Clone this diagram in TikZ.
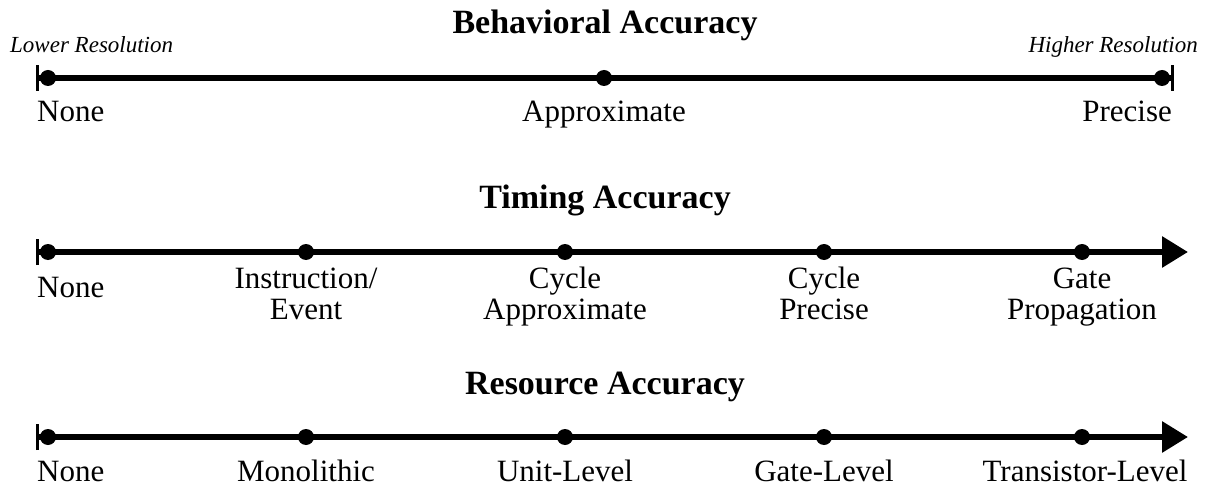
\documentclass[tikz,border=0pt]{standalone}
\usepackage{fontspec}
\setmainfont{Liberation Serif}
\usetikzlibrary{arrows.meta}
\begin{document}
\begin{tikzpicture}[x=1pt,y=-1pt,
  axis/.style={line width=6pt},
  endbar/.style={line width=3pt},
  dot/.style={circle,fill=black,inner sep=0pt,minimum size=16pt},
  lbl/.style={font=\fontsize{31}{31}\selectfont,inner sep=0pt,align=center},
  ttl/.style={font=\fontsize{34}{36}\selectfont\bfseries,inner sep=0pt},
  res/.style={font=\fontsize{23}{24}\selectfont\itshape,inner sep=0pt},
  tip/.style={-{Triangle[length=26pt,width=30pt]}}
]
\useasboundingbox (0,0) rectangle (1206,486);

% ---------- Behavioral ----------
\node[ttl,anchor=base] (t1) at (605,34) {Behavioral Accuracy};
\node[res,anchor=base west] (lo) at (10,53) {Lower Resolution};
\node[res,anchor=base east] (hi) at (1198,53) {Higher Resolution};
\coordinate (b1L) at (37,78);
\coordinate (b1R) at (1172,78);
\draw[axis] (b1L) -- (b1R);
\draw[endbar] ([yshift=-13pt]b1L) -- ([yshift=13pt]b1L);
\draw[endbar] ([yshift=-13pt]b1R) -- ([yshift=13pt]b1R);
\node[dot] (d11) at (48,78) {};
\node[dot] (d12) at (604,78) {};
\node[dot] (d13) at (1162,78) {};
\node[lbl,anchor=base west] (l11) at (37,122) {None};
\node[lbl,anchor=base] (l12) at (604,122) {Approximate};
\node[lbl,anchor=base east] (l13) at (1172,122) {Precise};

% ---------- Timing ----------
\node[ttl,anchor=base] (t2) at (605,209) {Timing Accuracy};
\coordinate (b2L) at (37,252);
\coordinate (b2R) at (1188,252);
\draw[axis,tip] (b2L) -- (b2R);
\draw[endbar] ([yshift=-13pt]b2L) -- ([yshift=13pt]b2L);
\node[dot] (d21) at (48,252) {};
\node[dot] (d22) at (306,252) {};
\node[dot] (d23) at (565,252) {};
\node[dot] (d24) at (824,252) {};
\node[dot] (d25) at (1082,252) {};
\node[lbl,anchor=base west] (l21) at (37,297) {None};
\node[lbl,anchor=base] (l22) at (306,319) {Instruction/\\Event};
\node[lbl,anchor=base] (l23) at (565,319) {Cycle\\Approximate};
\node[lbl,anchor=base] (l24) at (824,319) {Cycle\\Precise};
\node[lbl,anchor=base] (l25) at (1082,319) {Gate\\Propagation};

% ---------- Resource ----------
\node[ttl,anchor=base] (t3) at (605,394) {Resource Accuracy};
\coordinate (b3L) at (37,437);
\coordinate (b3R) at (1188,437);
\draw[axis,tip] (b3L) -- (b3R);
\draw[endbar] ([yshift=-13pt]b3L) -- ([yshift=13pt]b3L);
\node[dot] (d31) at (48,437) {};
\node[dot] (d32) at (306,437) {};
\node[dot] (d33) at (565,437) {};
\node[dot] (d34) at (824,437) {};
\node[dot] (d35) at (1082,437) {};
\node[lbl,anchor=base west] (l31) at (37,481) {None};
\node[lbl,anchor=base] (l32) at (306,481) {Monolithic};
\node[lbl,anchor=base] (l33) at (565,481) {Unit-Level};
\node[lbl,anchor=base] (l34) at (824,481) {Gate-Level};
\node[lbl,anchor=base] (l35) at (1085,481) {Transistor-Level};
\end{tikzpicture}
\end{document}
